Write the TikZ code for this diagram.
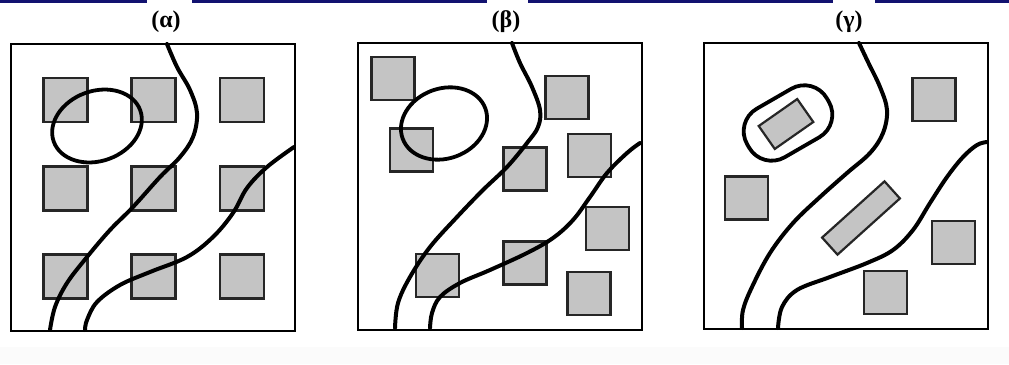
\documentclass[tikz,border=0pt]{standalone}
\usepackage{fontspec}
\setmainfont{Liberation Serif}
\definecolor{barnavy}{RGB}{18,18,112}
\definecolor{sqgray}{RGB}{196,196,196}
\begin{document}
\begin{tikzpicture}[x=1pt,y=-1pt,
  frame/.style={draw=black, line width=2.8pt},
  sq/.style={draw=black!85, line width=2.2pt, fill=sqgray, minimum size=44pt, inner sep=0pt, outer sep=0pt},
  curve/.style={draw=black, line width=4pt, line cap=round, line join=round},
  loopline/.style={draw=black, line width=3.8pt},
  ttl/.style={font=\bfseries\fontsize{24}{28}\selectfont, inner sep=0pt}]
\useasboundingbox (0,0) rectangle (1009,364);
\fill[white] (0,0) rectangle (1009,364);
\fill[gray!3] (0,347) rectangle (1009,364);
% top bar
\fill[barnavy] (0,0) rectangle (147,3);
\fill[barnavy] (192,0) rectangle (487,3);
\fill[barnavy] (528,0) rectangle (833,3);
\fill[barnavy] (875,0) rectangle (1009,3);
% titles
\node[ttl] (ta) at (166,22) {(α)};
\node[ttl] (tb) at (506,22) {(β)};
\node[ttl] (tg) at (849,22) {(γ)};
% frames
\draw[frame] (11,44) rectangle (295,331);
\draw[frame] (358,43) rectangle (642,330);
\draw[frame] (704,43) rectangle (988,329);
% panel alpha squares
\node[sq] (a11) at (65.5,100) {};
\node[sq] (a12) at (153.5,100) {};
\node[sq] (a13) at (242,100) {};
\node[sq] (a21) at (65.5,188.5) {};
\node[sq] (a22) at (153.5,188.5) {};
\node[sq] (a23) at (242,188.5) {};
\node[sq] (a31) at (65.5,276.5) {};
\node[sq] (a32) at (153.5,276.5) {};
\node[sq] (a33) at (242,276.5) {};
% panel beta squares
\node[sq, minimum size=43pt] (b1) at (393,78.5) {};
\node[sq, minimum size=43pt] (b2) at (567,97.5) {};
\node[sq, minimum size=43pt] (b3) at (411.5,150) {};
\node[sq, minimum size=43pt] (b4) at (525,169) {};
\node[sq, minimum size=43pt] (b5) at (589.5,155.5) {};
\node[sq, minimum size=43pt] (b6) at (607.5,228.5) {};
\node[sq, minimum size=43pt] (b7) at (437.5,275.5) {};
\node[sq, minimum size=43pt] (b8) at (525,263) {};
\node[sq, minimum size=43pt] (b9) at (589,293.5) {};
% panel gamma squares
\node[sq, minimum size=43pt] (g1) at (934,99.5) {};
\node[sq, minimum size=43pt] (g2) at (746.5,198) {};
\node[sq, minimum size=43pt] (g3) at (953.5,242.5) {};
\node[sq, minimum size=43pt] (g4) at (885.5,292.5) {};
\node[sq, minimum width=47pt, minimum height=28pt, rotate=35] (g5) at (786,124) {};
\node[sq, minimum width=84pt, minimum height=23pt, rotate=42] (g6) at (861,218) {};
% loops
\draw[loopline, rotate around={20:(97,126)}] (97,126) ellipse [x radius=46, y radius=35];
\draw[loopline, rotate around={20:(444,123.5)}] (444,123.5) ellipse [x radius=44, y radius=35];
\draw[loopline, rounded corners=26pt, rotate around={30:(788,123)}] (742,95) rectangle (834,151);
% curves alpha
\draw[curve] plot[smooth, tension=0.6] coordinates {(167,44) (177,67) (190,90) (197,113) (193,137) (180,157) (160,177) (133,207) (110,230) (87,257) (67,283) (55,307) (50,330)};
\draw[curve] plot[smooth, tension=0.6] coordinates {(294,147) (267,167) (247,188) (233,213) (213,237) (187,257) (150,272) (120,285) (97,302) (87,320) (85,330)};
% curves beta
\draw[curve] plot[smooth, tension=0.6] coordinates {(512,43) (520,63) (532,87) (540,110) (538,127) (527,143) (507,167) (483,190) (457,217) (430,247) (410,277) (398,303) (395,328)};
\draw[curve] plot[smooth, tension=0.6] coordinates {(640,143) (627,153) (607,173) (590,197) (573,220) (553,238) (527,253) (490,270) (460,283) (440,297) (432,313) (430,328)};
% curves gamma
\draw[curve] plot[smooth, tension=0.6] coordinates {(859,43) (868,62) (880,87) (887,110) (883,133) (870,153) (847,173) (820,197) (793,223) (770,253) (752,287) (743,310) (742,328)};
\draw[curve] plot[smooth, tension=0.6] coordinates {(987,142) (977,145) (963,157) (947,177) (930,203) (913,230) (893,250) (867,263) (830,277) (797,290) (782,307) (778,328)};
\end{tikzpicture}
\end{document}
